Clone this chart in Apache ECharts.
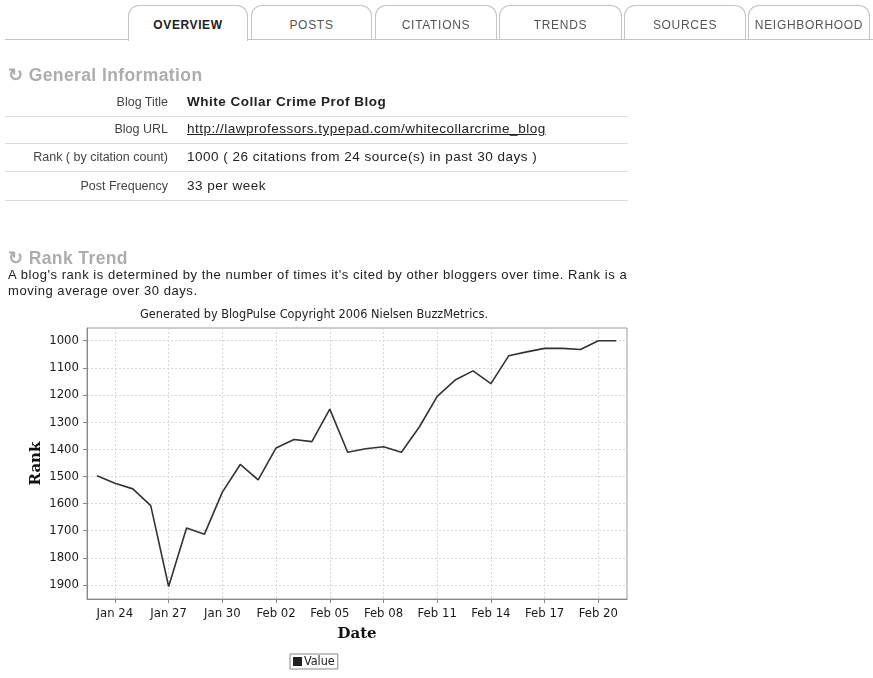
<!DOCTYPE html>
<html>
<head>
<meta charset="utf-8">
<script src="https://cdn.jsdelivr.net/npm/echarts@6/dist/echarts.min.js"></script>
<style>
  html, body { margin: 0; padding: 0; background: #fff; width: 873px; height: 678px; overflow: hidden; font-family: "Liberation Sans", Arial, sans-serif; }
  #chart { position: absolute; left: 0; top: 0; width: 873px; height: 678px; }
  .tab { position: absolute; top: 5px; height: 34px; border: 1px solid #c4c4c4; border-bottom: none; border-radius: 11px 11px 0 0; background: #fff; font-size: 12px; letter-spacing: 0.7px; color: #555; text-align: center; line-height: 38px; }
  .tab.active { height: 35px; color: #222; font-weight: bold; letter-spacing: 0.6px; z-index: 3; }
  .tabline { position: absolute; left: 5px; top: 39px; width: 868px; border-top: 1px solid #c4c4c4; z-index: 2; }
  .hdr { position: absolute; left: 8px; font-size: 17.5px; letter-spacing: 0.4px; font-weight: bold; color: #adadad; }
  .row { position: absolute; left: 5px; width: 623px; height: 27px; border-bottom: 1px solid #dcdcdc; color: #222; }
  .row .k { position: absolute; right: 460px; top: 6px; font-size: 12.5px; color: #444; white-space: nowrap; }
  .row .v { position: absolute; left: 182px; top: 5px; font-size: 13.5px; letter-spacing: 0.5px; white-space: nowrap; }
  .desc { position: absolute; left: 8px; top: 267px; width: 640px; font-size: 13px; letter-spacing: 0.55px; line-height: 16px; color: #222; }
</style>
</head>
<body>
<div id="chart"></div>

<div class="tabline"></div>
<div class="tab active" style="left:128px;width:118px;">OVERVIEW</div>
<div class="tab" style="left:251px;width:119px;">POSTS</div>
<div class="tab" style="left:375px;width:120px;">CITATIONS</div>
<div class="tab" style="left:499px;width:121px;">TRENDS</div>
<div class="tab" style="left:624px;width:120px;">SOURCES</div>
<div class="tab" style="left:748px;width:120px;">NEIGHBORHOOD</div>

<div class="hdr" style="top:65px;">&#8635; General Information</div>
<div class="row" style="top:89px;"><span class="k">Blog Title</span><span class="v" style="font-weight:bold;">White Collar Crime Prof Blog</span></div>
<div class="row" style="top:116px;"><span class="k">Blog URL</span><span class="v" style="text-decoration:underline;">http://lawprofessors.typepad.com/whitecollarcrime_blog</span></div>
<div class="row" style="top:144px;"><span class="k">Rank ( by citation count)</span><span class="v">1000 ( 26 citations from 24 source(s) in past 30 days )</span></div>
<div class="row" style="top:173px;"><span class="k">Post Frequency</span><span class="v">33 per week</span></div>

<div class="hdr" style="top:248px;">&#8635; Rank Trend</div>
<div class="desc">A blog's rank is determined by the number of times it's cited by other bloggers over time. Rank is a moving average over 30 days.</div>

<script>
// ---- data ----
var dates = ['Jan 23','Jan 24','Jan 25','Jan 26','Jan 27','Jan 28','Jan 29','Jan 30','Jan 31',
             'Feb 01','Feb 02','Feb 03','Feb 04','Feb 05','Feb 06','Feb 07','Feb 08','Feb 09','Feb 10',
             'Feb 11','Feb 12','Feb 13','Feb 14','Feb 15','Feb 16','Feb 17','Feb 18','Feb 19','Feb 20','Feb 21'];
var rankValues = [1498,1525,1546,1608,1906,1690,1713,1558,1456,
                  1513,1395,1364,1372,1252,1411,1398,1391,1411,1318,
                  1205,1145,1111,1158,1055,1041,1028,1028,1032,1000,1000];
var xTickLabels = ['Jan 24','Jan 27','Jan 30','Feb 02','Feb 05','Feb 08','Feb 11','Feb 14','Feb 17','Feb 20'];
var yTickLabels = [1000,1100,1200,1300,1400,1500,1600,1700,1800,1900];
var seriesName = 'Value';
var chartTitle = 'Generated by BlogPulse Copyright 2006 Nielsen BuzzMetrics.';

// ---- build ----
var xTickPos = xTickLabels.map(function (l) { return dates.indexOf(l); });
var points = dates.map(function (d, i) { return [i, rankValues[i]]; });

var chart = echarts.init(document.getElementById('chart'), null, { renderer: 'canvas' });
var tickFont = { fontFamily: 'DejaVu Sans Condensed', fontSize: 13, color: '#1a1a1a' };
chart.setOption({
  animation: false,
  title: {
    text: chartTitle, left: 309, top: 303, textAlign: 'center',
    textStyle: { fontFamily: 'DejaVu Sans Condensed', fontSize: 12.6, fontWeight: 'normal', color: '#222' }
  },
  legend: {
    data: [seriesName], left: 290, top: 654, orient: 'horizontal',
    icon: 'rect', itemWidth: 9, itemHeight: 9, itemGap: 4,
    padding: [1, 3, 1, 3], borderColor: '#888', borderWidth: 1, backgroundColor: '#fff',
    textStyle: { fontFamily: 'DejaVu Sans Condensed', fontSize: 12.5, color: '#222', padding: [0, 0, 0, -3] }
  },
  grid: { left: 87, top: 328, width: 540, height: 271, show: true, borderColor: '#9a9a9a', borderWidth: 1, containLabel: false },
  xAxis: {
    type: 'value', min: -0.56, max: 29.6,
    name: 'Date', nameLocation: 'middle', nameGap: 28, nameMoveOverlap: false,
    nameTextStyle: { fontFamily: 'DejaVu Serif', fontWeight: 'bold', fontSize: 15, color: '#111' },
    axisLine: { show: true, onZero: false, lineStyle: { color: '#888', width: 1 } },
    axisTick: { show: true, length: 4, inside: false, customValues: xTickPos, lineStyle: { color: '#888' } },
    axisLabel: Object.assign({ customValues: xTickPos, margin: 8,
      formatter: function (v) { return dates[Math.round(v)] || ''; } }, tickFont),
    splitLine: { show: true, lineStyle: { color: '#d8d8d8', type: [2, 2], width: 1 } }
  },
  yAxis: {
    type: 'value', inverse: true, min: 953, max: 1952,
    name: 'Rank', nameLocation: 'middle', nameGap: 43, nameRotate: 90, nameMoveOverlap: false,
    nameTextStyle: { fontFamily: 'DejaVu Serif', fontWeight: 'bold', fontSize: 15, color: '#111' },
    axisLine: { show: true, onZero: false, lineStyle: { color: '#888', width: 1 } },
    axisTick: { show: true, length: 4, inside: false, customValues: yTickLabels, lineStyle: { color: '#888' } },
    axisLabel: Object.assign({ customValues: yTickLabels, margin: 8,
      formatter: function (v) { return String(v); } }, tickFont),
    splitLine: { show: true, lineStyle: { color: '#d8d8d8', type: [2, 2], width: 1 } }
  },
  series: [{
    name: seriesName, type: 'line', data: points, showSymbol: false, symbol: 'none',
    lineStyle: { color: '#333', width: 1.6 }, itemStyle: { color: '#222' }
  }]
});
</script>
</body>
</html>
